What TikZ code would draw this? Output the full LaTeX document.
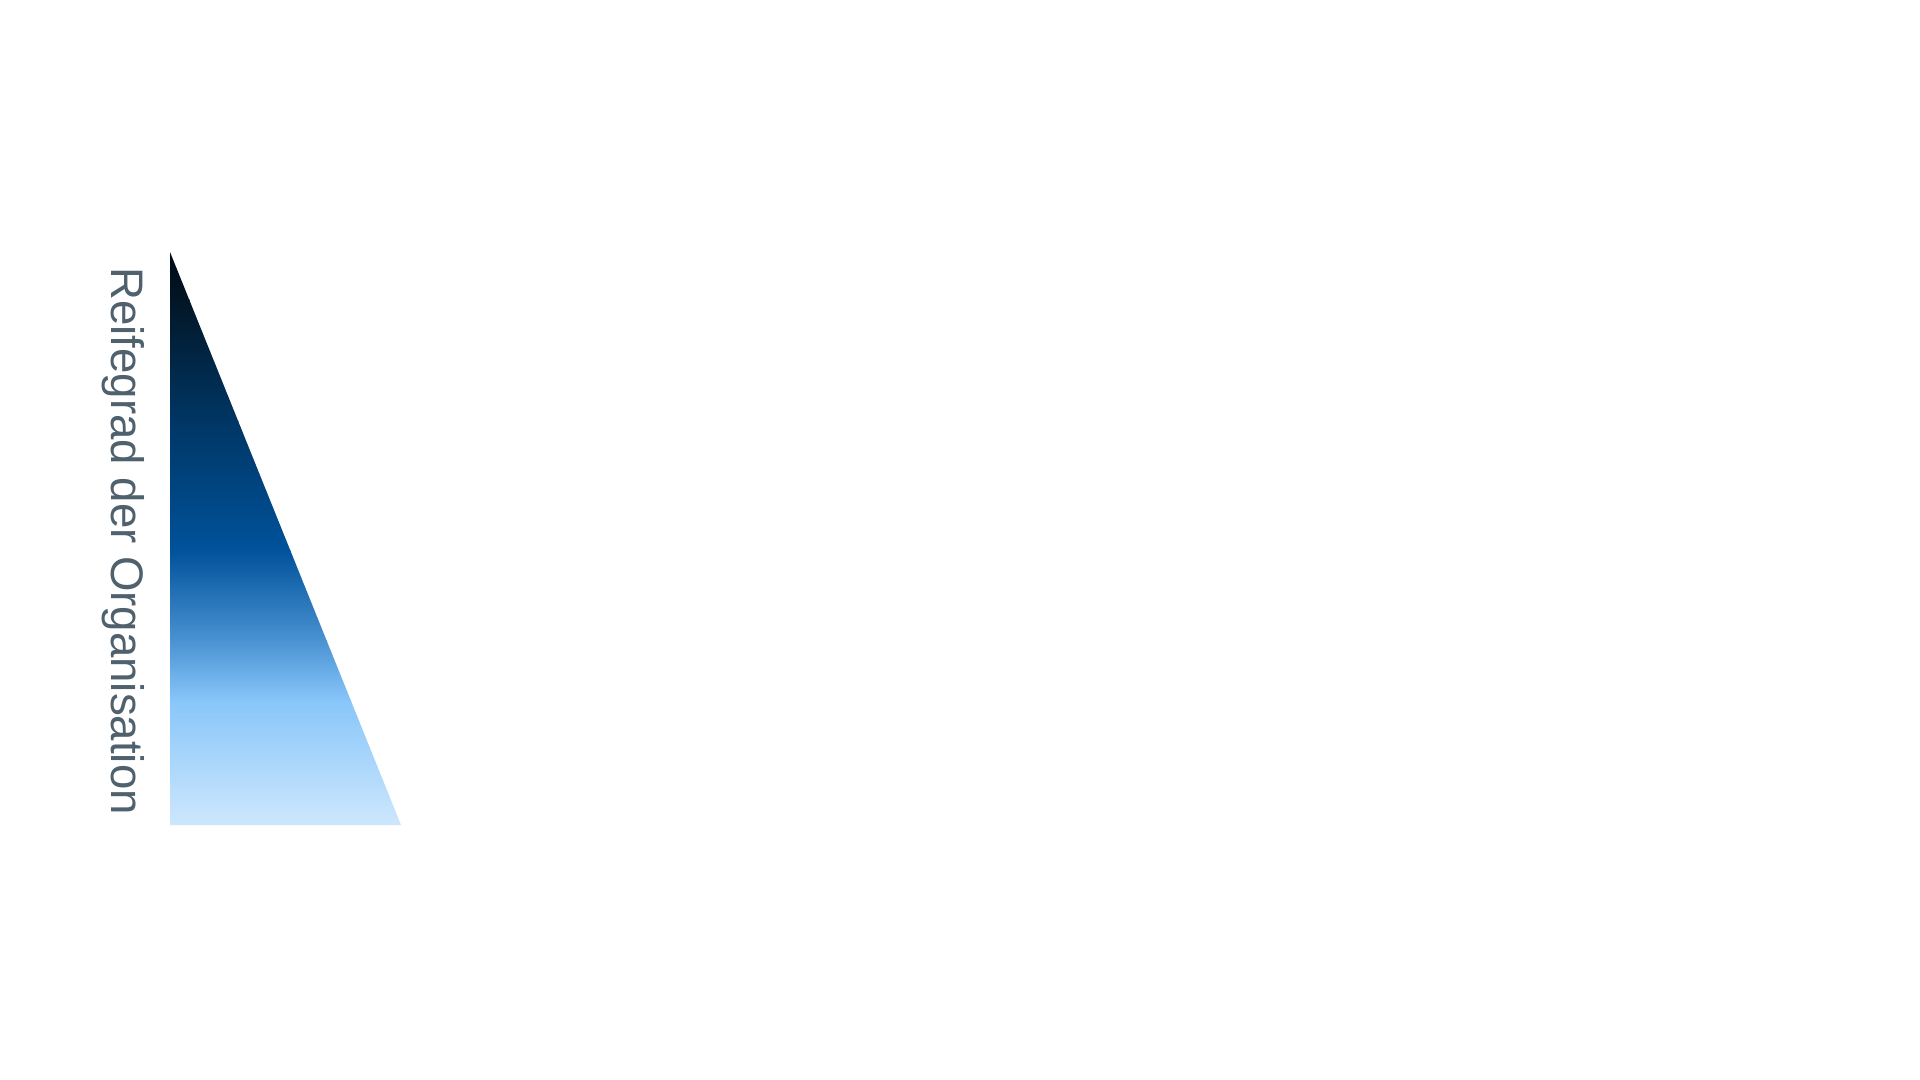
\documentclass[tikz,border=0pt]{standalone}
\usepackage{fontspec}
\setmainfont{Liberation Sans}
\definecolor{g0}{HTML}{000A16}
\definecolor{g1}{HTML}{021626}
\definecolor{g2}{HTML}{003664}
\definecolor{g3}{HTML}{00529B}
\definecolor{g4}{HTML}{4A92D2}
\definecolor{g5}{HTML}{88C6FA}
\definecolor{g6}{HTML}{D0E8FC}
\definecolor{labelgray}{HTML}{4F616D}
\tikzset{axislabel/.style={rotate=-90, anchor=base west, inner sep=0pt, text=labelgray, font=\fontsize{22.8pt}{27pt}\selectfont}}
\begin{document}
\begin{tikzpicture}[x=0.5pt,y=-0.5pt]
\useasboundingbox (0,0) rectangle (1920,1080);
\fill[white] (0,0) rectangle (1920,1080);
\coordinate (apex) at (170,252);
\coordinate (bl) at (170,825);
\coordinate (br) at (401,825);
\begin{scope}
\clip (apex) -- (br) -- (bl) -- cycle;
\shade[top color=g0, bottom color=g1] (165,248) rectangle (405,301);
\shade[top color=g1, bottom color=g2] (165,300) rectangle (405,421);
\shade[top color=g2, bottom color=g3] (165,420) rectangle (405,551);
\shade[top color=g3, bottom color=g4] (165,550) rectangle (405,641);
\shade[top color=g4, bottom color=g5] (165,640) rectangle (405,701);
\shade[top color=g5, bottom color=g6] (165,700) rectangle (405,830);
\end{scope}
\node[axislabel] (label) at (111,267) {Reifegrad der Organisation};
\end{tikzpicture}
\end{document}
